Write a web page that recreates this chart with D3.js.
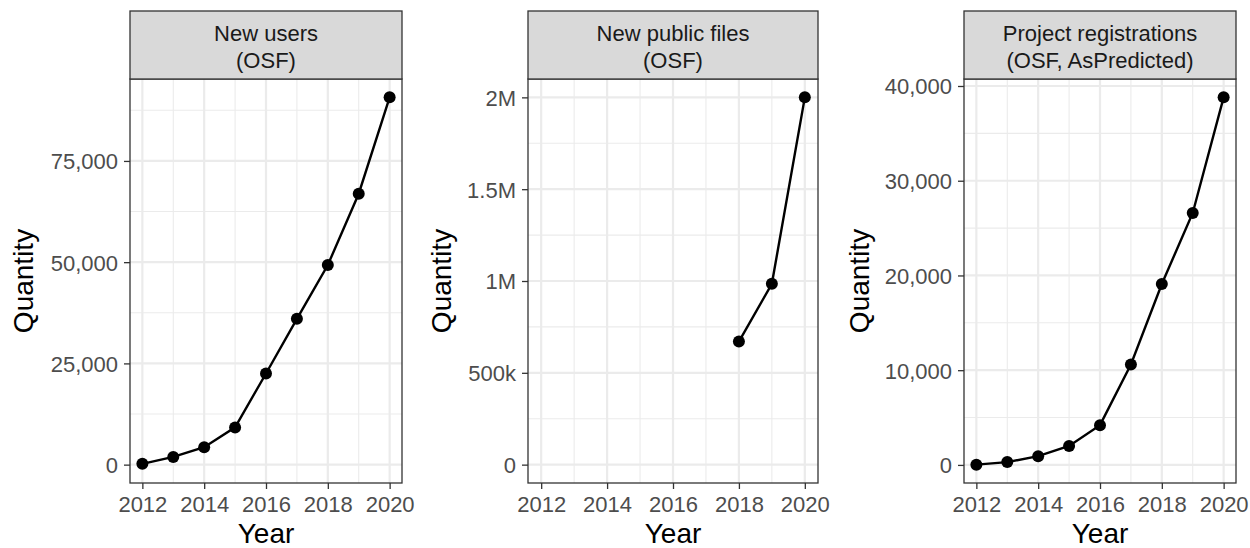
<!DOCTYPE html>
<html>
<head>
<meta charset="utf-8">
<script src="https://cdn.jsdelivr.net/npm/d3@7/dist/d3.min.js"></script>
<style>
  html, body { margin: 0; padding: 0; background: #fff; }
  svg { display: block; font-family: "Liberation Sans", Arial, sans-serif; }
</style>
</head>
<body>
<svg id="chart" width="1250" height="548"></svg>
<script>
// Yearly open-science activity, one facet per metric
const years = [2012, 2013, 2014, 2015, 2016, 2017, 2018, 2019, 2020];
const newUsers = [200, 1900, 4300, 9200, 22500, 36000, 49300, 66900, 90700];
const publicFiles = [null, null, null, null, null, null, 670000, 985000, 2000000];
const registrations = [30, 300, 920, 2000, 4200, 10600, 19100, 26600, 38800];

const panelTitles = [
  ["New users", "(OSF)"],
  ["New public files", "(OSF)"],
  ["Project registrations", "(OSF, AsPredicted)"]
];
const xTickValues = [2012, 2014, 2016, 2018, 2020];
const yTickValues = [
  [0, 25000, 50000, 75000],
  [0, 500000, 1000000, 1500000, 2000000],
  [0, 10000, 20000, 30000, 40000]
];
const xLabel = "Year";
const yLabel = "Quantity";

const commaFmt = d3.format(",");
function siFmt(v) {
  if (v === 0) return "0";
  if (v >= 1e6) return (v / 1e6) + "M";
  return (v / 1e3) + "k";
}

const panels = [
  { values: newUsers, title: panelTitles[0], ticks: yTickValues[0], fmt: commaFmt, left: 130, right: 402, yMin: 0, ylabX: 33 },
  { values: publicFiles, title: panelTitles[1], ticks: yTickValues[1], fmt: siFmt, left: 528, right: 818, yMin: 0, ylabX: 451 },
  { values: registrations, title: panelTitles[2], ticks: yTickValues[2], fmt: commaFmt, left: 964, right: 1236, yMin: null, ylabX: 869 }
];

const stripTop = 11, plotTop = 79, plotBottom = 483;
const svg = d3.select("#chart");

function expand(lo, hi) {
  const pad = (hi - lo) * 0.05;
  return [lo - pad, hi + pad];
}

panels.forEach((p) => {
  const vals = p.values.filter(v => v != null);
  let lo = d3.min(vals), hi = d3.max(vals);
  if (p.yMin != null) lo = Math.min(lo, p.yMin);
  const x = d3.scaleLinear().domain(expand(d3.min(years), d3.max(years))).range([p.left, p.right]);
  const y = d3.scaleLinear().domain(expand(lo, hi)).range([plotBottom, plotTop]);

  const g = svg.append("g");

  // background grid: minor lines halfway between majors
  const step = p.ticks[1] - p.ticks[0];
  const yMinor = [];
  p.ticks.forEach(t => {
    [t - step / 2, t + step / 2].forEach(m => {
      if (m > y.domain()[0] && m < y.domain()[1] && !yMinor.includes(m)) yMinor.push(m);
    });
  });
  const xMinor = years.filter(yr => !xTickValues.includes(yr));

  g.selectAll(".ygm").data(yMinor).join("line")
    .attr("x1", p.left).attr("x2", p.right)
    .attr("y1", d => y(d)).attr("y2", d => y(d))
    .attr("stroke", "#ebebeb").attr("stroke-width", 1.1);
  g.selectAll(".xgm").data(xMinor).join("line")
    .attr("y1", plotTop).attr("y2", plotBottom)
    .attr("x1", d => x(d)).attr("x2", d => x(d))
    .attr("stroke", "#ebebeb").attr("stroke-width", 1.1);
  g.selectAll(".ygM").data(p.ticks).join("line")
    .attr("x1", p.left).attr("x2", p.right)
    .attr("y1", d => y(d)).attr("y2", d => y(d))
    .attr("stroke", "#ebebeb").attr("stroke-width", 2.2);
  g.selectAll(".xgM").data(xTickValues).join("line")
    .attr("y1", plotTop).attr("y2", plotBottom)
    .attr("x1", d => x(d)).attr("x2", d => x(d))
    .attr("stroke", "#ebebeb").attr("stroke-width", 2.2);

  // series line and points
  const pts = years.map((yr, i) => ({ yr, v: p.values[i] })).filter(d => d.v != null);
  const line = d3.line().x(d => x(d.yr)).y(d => y(d.v));
  g.append("path").datum(pts)
    .attr("d", line).attr("fill", "none")
    .attr("stroke", "#000").attr("stroke-width", 2.4);
  g.selectAll(".pt").data(pts).join("circle")
    .attr("cx", d => x(d.yr)).attr("cy", d => y(d.v))
    .attr("r", 6).attr("fill", "#000");

  // panel border
  g.append("rect")
    .attr("x", p.left).attr("y", plotTop)
    .attr("width", p.right - p.left).attr("height", plotBottom - plotTop)
    .attr("fill", "none").attr("stroke", "#333").attr("stroke-width", 1.3);

  // strip
  g.append("rect")
    .attr("x", p.left).attr("y", stripTop)
    .attr("width", p.right - p.left).attr("height", plotTop - stripTop)
    .attr("fill", "#d9d9d9").attr("stroke", "#333").attr("stroke-width", 1.3);
  g.append("text")
    .attr("x", (p.left + p.right) / 2).attr("y", 41)
    .attr("text-anchor", "middle").attr("font-size", 22).attr("fill", "#1a1a1a")
    .text(p.title[0]);
  g.append("text")
    .attr("x", (p.left + p.right) / 2).attr("y", 68)
    .attr("text-anchor", "middle").attr("font-size", 22).attr("fill", "#1a1a1a")
    .text(p.title[1]);

  // axes
  const xAxis = d3.axisBottom(x).tickValues(xTickValues).tickFormat(d3.format("d"))
    .tickSizeOuter(0).tickSizeInner(6).tickPadding(7);
  const xg = g.append("g").attr("transform", `translate(0,${plotBottom})`).call(xAxis);
  const yAxis = d3.axisLeft(y).tickValues(p.ticks).tickFormat(p.fmt)
    .tickSizeOuter(0).tickSizeInner(6).tickPadding(6);
  const yg = g.append("g").attr("transform", `translate(${p.left},0)`).call(yAxis);
  [xg, yg].forEach(ax => {
    ax.select(".domain").remove();
    ax.selectAll(".tick line").attr("stroke", "#333").attr("stroke-width", 1.3);
    ax.selectAll(".tick text").attr("fill", "#4d4d4d").attr("font-size", 22)
      .attr("font-family", "Liberation Sans, Arial, sans-serif");
  });
  yg.selectAll(".tick text").attr("dy", "0.36em");

  // axis titles
  g.append("text")
    .attr("x", (p.left + p.right) / 2).attr("y", 543)
    .attr("text-anchor", "middle").attr("font-size", 28).attr("fill", "#000")
    .text(xLabel);
  g.append("text")
    .attr("transform", `translate(${p.ylabX},${(plotTop + plotBottom) / 2}) rotate(-90)`)
    .attr("text-anchor", "middle").attr("font-size", 28).attr("fill", "#000")
    .text(yLabel);
});
</script>
</body>
</html>
